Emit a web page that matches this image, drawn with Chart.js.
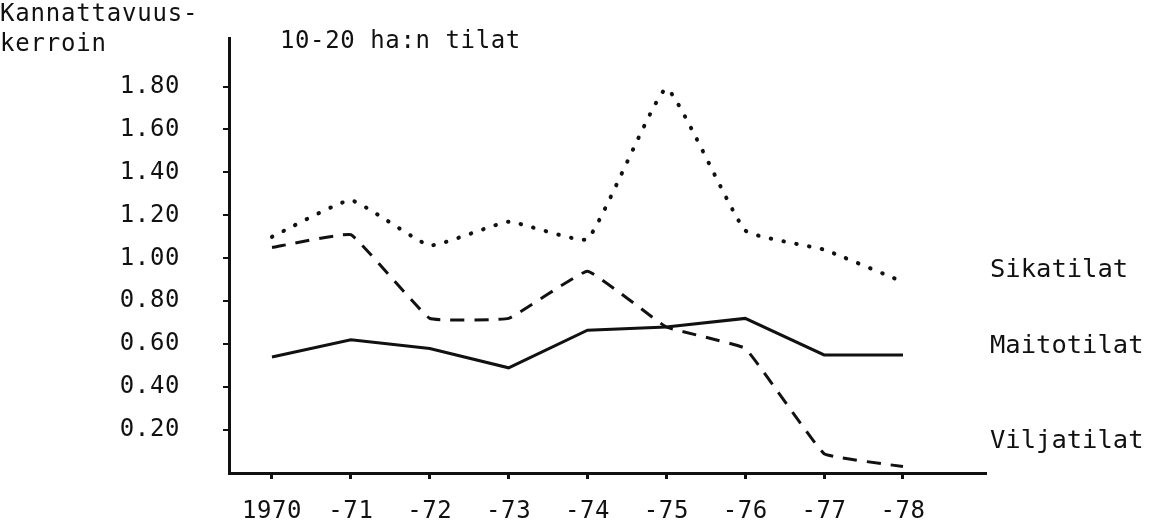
<!DOCTYPE html>
<html>
<head>
<meta charset="utf-8">
<script src="https://cdn.jsdelivr.net/npm/chart.js@4.4.0/dist/chart.umd.min.js"></script>
<style>
  html, body { margin: 0; padding: 0; background: #fff; }
  #wrap { width: 1162px; height: 524px; position: relative; }
</style>
</head>
<body>
<div id="wrap"><canvas id="myChart"></canvas></div>
<script>
const years = ['1970', '-71', '-72', '-73', '-74', '-75', '-76', '-77', '-78'];
const sikatilat = [1.10, 1.27, 1.06, 1.17, 1.09, 1.79, 1.13, 1.04, 0.89];
const maitotilat = [0.54, 0.62, 0.58, 0.49, 0.665, 0.68, 0.72, 0.55, 0.55];
const viljatilat = [1.05, 1.11, 0.72, 0.72, 0.94, 0.68, 0.58, 0.09, 0.03];
const seriesNames = ['Sikatilat', 'Maitotilat', 'Viljatilat'];
const nameValues = [0.945, 0.59, 0.145];
const yTicks = [0.2, 0.4, 0.6, 0.8, 1.0, 1.2, 1.4, 1.6, 1.8];

const FONT = '"DejaVu Sans Mono", monospace';

const toPoints = arr => arr.map((v, i) => ({ x: i, y: v }));

// typewriter look: a little extra space between letters
const spacingPlugin = {
  id: 'spacing',
  beforeDraw(chart) { chart.ctx.letterSpacing = '0.6px'; }
};

const textPlugin = {
  id: 'texts',
  afterDraw(chart) {
    const ctx = chart.ctx;
    const xs = chart.scales.x, ys = chart.scales.y;
    ctx.save();
    ctx.fillStyle = '#111';
    ctx.textBaseline = 'middle';
    ctx.textAlign = 'left';
    ctx.letterSpacing = '0.8px';
    ctx.font = '24px ' + FONT;
    ctx.fillText('Kannattavuus-', 0, 15);
    ctx.fillText('kerroin', 0, 45);
    ctx.letterSpacing = '0.6px';
    ctx.fillText('10-20 ha:n tilat', 280, 42);
    ctx.letterSpacing = '0px';
    ctx.font = '25.5px ' + FONT;
    const lx = xs.getPixelForValue(years.length - 1) + 87;
    seriesNames.forEach((n, i) => {
      ctx.fillText(n, lx, ys.getPixelForValue(nameValues[i]));
    });
    ctx.restore();
  }
};

new Chart(document.getElementById('myChart'), {
  type: 'line',
  data: {
    datasets: [
      {
        label: 'Sikatilat',
        data: toPoints(sikatilat),
        borderColor: '#111',
        borderWidth: 4,
        borderDash: [0.5, 12.5],
        borderCapStyle: 'round',
        pointRadius: 0,
        tension: 0.12
      },
      {
        label: 'Maitotilat',
        data: toPoints(maitotilat),
        borderColor: '#111',
        borderWidth: 3,
        pointRadius: 0
      },
      {
        label: 'Viljatilat',
        data: toPoints(viljatilat),
        borderColor: '#111',
        borderWidth: 3,
        borderDash: [14, 10],
        pointRadius: 0,
        tension: 0.08
      }
    ]
  },
  options: {
    responsive: true,
    maintainAspectRatio: false,
    animation: false,
    layout: { padding: { left: 0, top: 38, right: 177, bottom: 0 } },
    plugins: { legend: { display: false }, tooltip: { enabled: false } },
    scales: {
      x: {
        type: 'linear',
        min: -0.545,
        max: 9.04,
        afterBuildTicks: s => { s.ticks = years.map((_, i) => ({ value: i })); },
        afterFit: s => { s.height = 51; s.paddingLeft = 0; s.paddingRight = 0; },
        ticks: {
          callback: v => years[v],
          font: { family: FONT, size: 24 },
          color: '#111',
          padding: 18,
          maxRotation: 0,
          autoSkip: false
        },
        grid: { drawOnChartArea: false, tickLength: 6, color: '#111', lineWidth: 3 },
        border: { display: true, color: '#111', width: 3 }
      },
      y: {
        min: 0,
        max: 2.026,
        afterBuildTicks: s => { s.ticks = yTicks.map(v => ({ value: v })); },
        afterFit: s => { s.width = 229; s.paddingTop = 0; s.paddingBottom = 0; },
        ticks: {
          callback: v => v.toFixed(2),
          font: { family: FONT, size: 24 },
          color: '#111',
          padding: 43
        },
        grid: { drawOnChartArea: false, tickLength: 6, color: '#111', lineWidth: 2 },
        border: { display: true, color: '#111', width: 3 }
      }
    }
  },
  plugins: [spacingPlugin, textPlugin]
});
</script>
</body>
</html>
